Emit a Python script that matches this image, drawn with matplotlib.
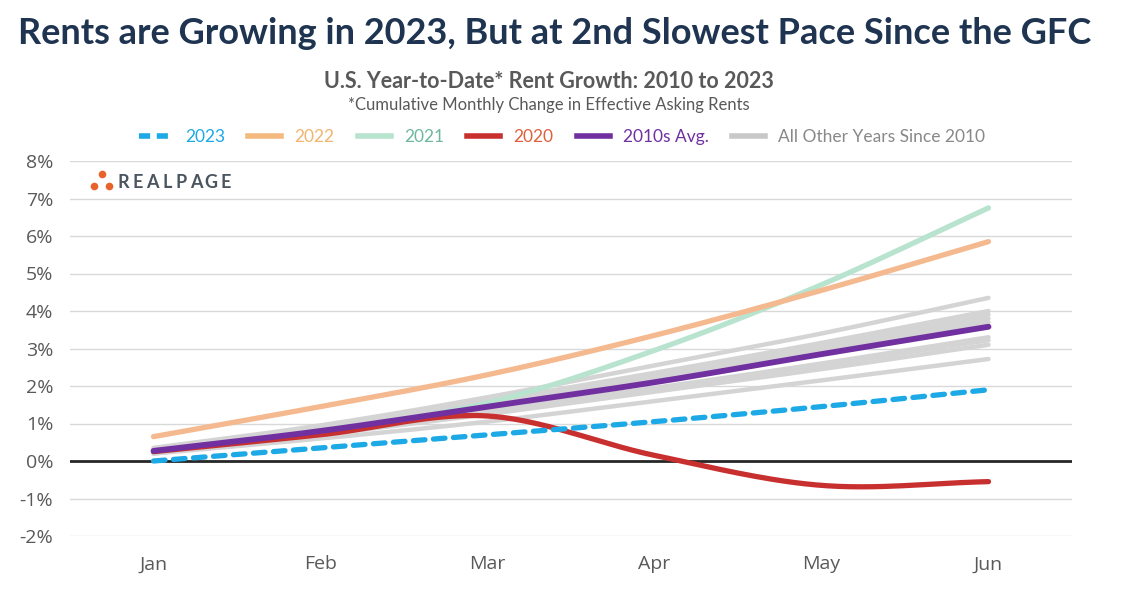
import numpy as np
import matplotlib
matplotlib.use("Agg")
import matplotlib.pyplot as plt
from matplotlib.lines import Line2D

plt.rcParams['font.family'] = ['Lato', 'DejaVu Sans']

# ---- data ----
months = ["Jan", "Feb", "Mar", "Apr", "May", "Jun"]
y2023 = [0.0, 0.35, 0.70, 1.05, 1.45, 1.90]
y2022 = [0.65, 1.45, 2.30, 3.35, 4.55, 5.85]
y2021 = [0.25, 0.80, 1.55, 2.95, 4.70, 6.75]
y2020 = [0.25, 0.70, 1.20, 0.15, -0.65, -0.55]
avg_2010s = [0.27, 0.80, 1.45, 2.10, 2.85, 3.58]
other_years = [
    [0.35, 0.95, 1.70, 2.55, 3.40, 4.35],
    [0.30, 0.90, 1.60, 2.35, 3.15, 4.00],
    [0.30, 0.85, 1.55, 2.30, 3.10, 3.90],
    [0.30, 0.85, 1.50, 2.25, 3.00, 3.80],
    [0.25, 0.80, 1.45, 2.20, 2.95, 3.70],
    [0.25, 0.80, 1.45, 2.15, 2.90, 3.60],
    [0.25, 0.75, 1.35, 1.95, 2.60, 3.30],
    [0.20, 0.70, 1.30, 1.90, 2.55, 3.22],
    [0.20, 0.70, 1.25, 1.85, 2.45, 3.10],
    [0.20, 0.60, 1.05, 1.60, 2.15, 2.72],
]
yticks = [-2, -1, 0, 1, 2, 3, 4, 5, 6, 7, 8]


def smooth(vals, n=30):
    """Catmull-Rom smoothing through the points (like a smoothed line chart)."""
    p = np.asarray(vals, float)
    x = np.arange(len(p), dtype=float)
    pe = np.concatenate([[2 * p[0] - p[1]], p, [2 * p[-1] - p[-2]]])
    xs, ys = [], []
    for i in range(len(p) - 1):
        p0, p1, p2, p3 = pe[i], pe[i + 1], pe[i + 2], pe[i + 3]
        t = np.linspace(0, 1, n, endpoint=(i == len(p) - 2))
        yy = 0.5 * ((2 * p1) + (-p0 + p2) * t + (2 * p0 - 5 * p1 + 4 * p2 - p3) * t ** 2
                    + (-p0 + 3 * p1 - 3 * p2 + p3) * t ** 3)
        xs.append(x[i] + t)
        ys.append(yy)
    return np.concatenate(xs), np.concatenate(ys)


fig = plt.figure(figsize=(11.24, 5.89), dpi=100)
ax = fig.add_axes([70 / 1124, 1 - 536 / 589, (1072 - 70) / 1124, (536 - 161) / 589])

for s in other_years:
    xx, yy = smooth(s)
    ax.plot(xx, yy, color="#D4D4D4", lw=3.2, solid_capstyle="round", zorder=2)

c2021 = "#B8E3CF"
c2022 = "#F5B98F"
c2020 = "#C8302F"
cavg = "#7030A0"
c2023 = "#1CA9E6"

xx, yy = smooth(y2021); ax.plot(xx, yy, color=c2021, lw=3.8, solid_capstyle="round", zorder=3)
xx, yy = smooth(y2022); ax.plot(xx, yy, color=c2022, lw=3.8, solid_capstyle="round", zorder=3)
xx, yy = smooth(y2020); ax.plot(xx, yy, color=c2020, lw=3.8, solid_capstyle="round", zorder=4)
xx, yy = smooth(avg_2010s); ax.plot(xx, yy, color=cavg, lw=4.2, solid_capstyle="round", zorder=5)
xx, yy = smooth(y2023); ax.plot(xx, yy, color=c2023, lw=3.8, ls=(0, (2.2, 1.6)),
                                dash_capstyle="round", zorder=6)

ax.set_xlim(-0.5, len(months) - 0.5)
ax.set_ylim(-2, 8)
ax.set_xticks(range(len(months)))
ax.set_xticklabels(months, family=["Open Sans", "DejaVu Sans"])
ax.set_yticks(yticks)
ax.set_yticklabels([f"{v}%" for v in yticks], ha="right", family=["Open Sans", "DejaVu Sans"])
ax.tick_params(axis="y", length=0, pad=12, labelsize=14, labelcolor="#595959")
ax.tick_params(axis="x", length=0, pad=14, labelsize=14, labelcolor="#595959")
ax.grid(axis="y", color="#D9D9D9", lw=1.0, zorder=0)
gl = ax.get_ygridlines()
gl[yticks.index(0)].set_visible(False)
ax.axhline(0, color="#262626", lw=2.0, zorder=1)
for sp in ax.spines.values():
    sp.set_visible(False)

# titles
fig.text(18 / 1124, 1 - 34 / 589, "Rents are Growing in 2023, But at 2nd Slowest Pace Since the GFC",
         fontsize=26, fontweight="bold", color="#1F3450", va="center", ha="left")
fig.text(549 / 1124, 1 - 82 / 589, "U.S. Year-to-Date* Rent Growth: 2010 to 2023",
         fontsize=15.5, fontweight="bold", color="#595959", va="center", ha="center")
fig.text(549 / 1124, 1 - 105 / 589, "*Cumulative Monthly Change in Effective Asking Rents",
         fontsize=12, color="#595959", va="center", ha="center")

# legend
handles = [
    Line2D([], [], color=c2023, lw=4, ls=(0, (2, 1.2))),
    Line2D([], [], color="#F4B97F", lw=4),
    Line2D([], [], color=c2021, lw=4),
    Line2D([], [], color=c2020, lw=4),
    Line2D([], [], color=cavg, lw=4),
    Line2D([], [], color="#C8C8C8", lw=4),
]
labels = ["2023", "2022", "2021", "2020", "2010s Avg.", "All Other Years Since 2010"]
text_colors = ["#1CA9E6", "#F2B46E", "#6DB89C", "#E0603C", "#7030A0", "#888888"]
leg = fig.legend(handles, labels, loc="center", bbox_to_anchor=(562 / 1124, 1 - 137 / 589),
                 ncol=6, frameon=False, fontsize=12.5, handlelength=1.9, columnspacing=1.35,
                 handletextpad=0.75)
for t, c in zip(leg.get_texts(), text_colors):
    t.set_color(c)

# RealPage logo
for (px, py) in [(94, 186), (102, 174), (109, 186)]:
    fig.add_artist(Line2D([px / 1124], [1 - py / 589], transform=fig.transFigure,
                          marker="o", ms=5.5, color="#E8622C", mec="none", ls="none"))
for i, ch in enumerate("REALPAGE"):
    fig.text((123 + i * 14.6) / 1124, 1 - 182 / 589, ch, fontsize=13, fontweight="bold",
             color="#4A5560", va="center", ha="center")

fig.savefig("out.png", dpi=100)
